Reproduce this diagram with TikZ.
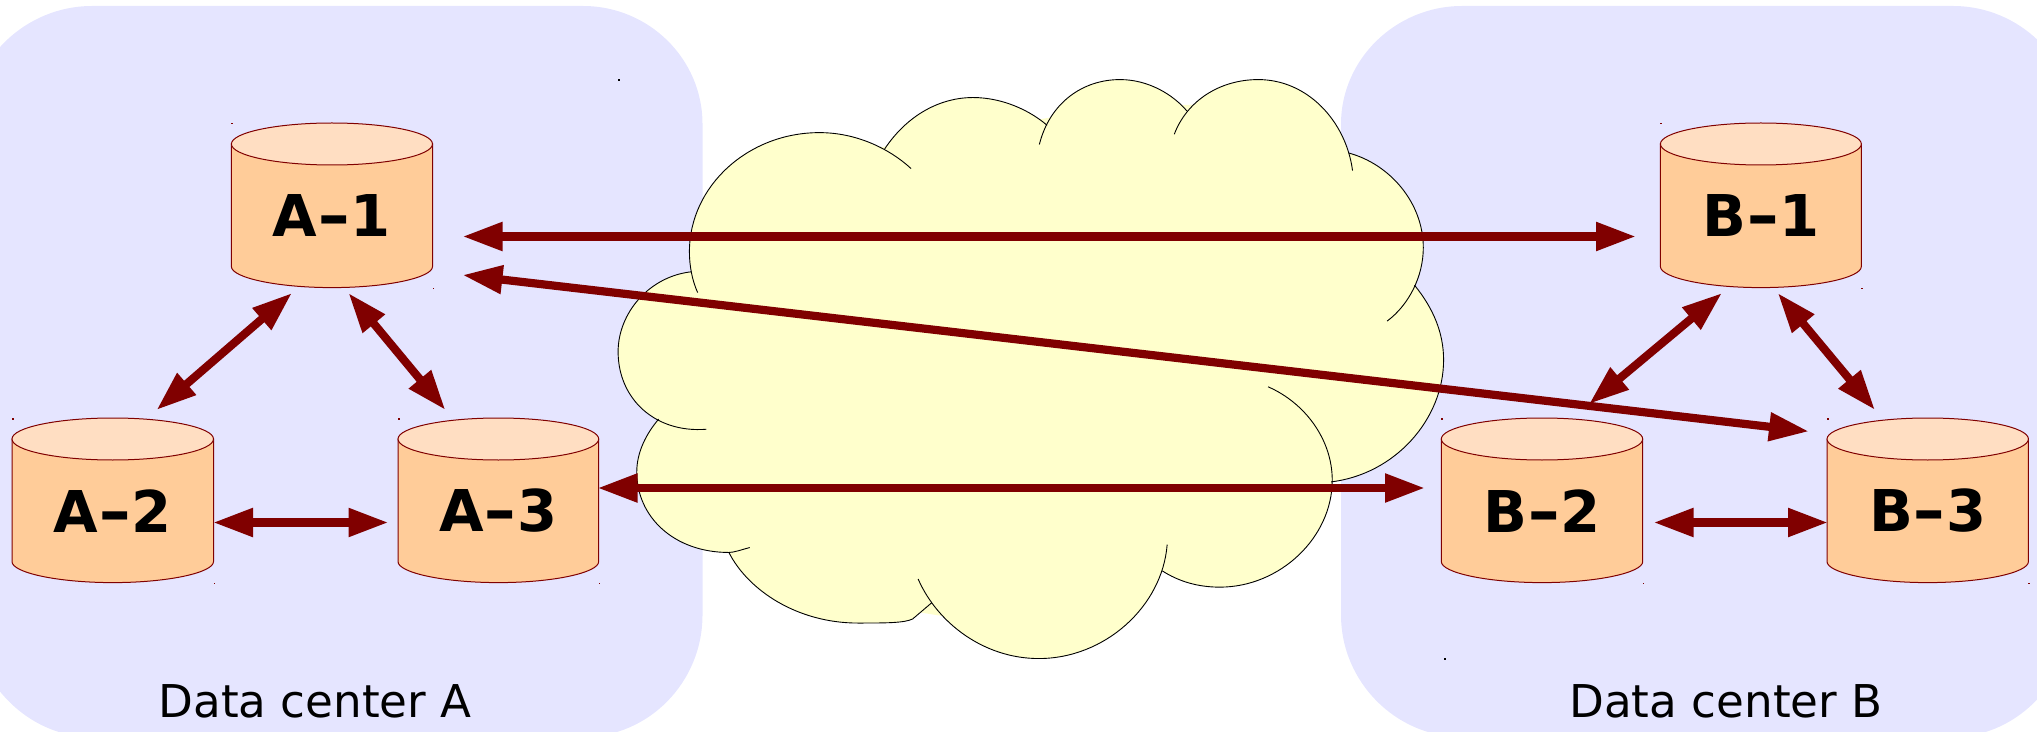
\documentclass[tikz,border=0pt]{standalone}
\usepackage{graphicx}
\usepackage{fontspec}
\setmainfont{DejaVu Sans}
\usetikzlibrary{arrows.meta}
\definecolor{panelblue}{HTML}{E5E5FF}
\definecolor{cloudyellow}{HTML}{FFFFCC}
\definecolor{cylbody}{HTML}{FFCC99}
\definecolor{cyltop}{HTML}{FFDEC2}
\definecolor{maroonline}{HTML}{800000}
\newcommand{\hy}{\scalebox{1.4}[1]{-}}
\tikzset{
  panel/.style={fill=panelblue,draw=none},
  cylline/.style={draw=maroonline,line width=0.5pt},
  cyllabel/.style={font=\bfseries\fontsize{28.8pt}{30pt}\selectfont,text=black,inner sep=0pt},
  dclabel/.style={font=\fontsize{22.6pt}{24pt}\selectfont,text=black,inner sep=0pt,anchor=base},
  link/.style={draw=maroonline,line width=4.1pt,
    {Triangle[length=20pt,width=13.5pt]}-{Triangle[length=20pt,width=13.5pt]}},
  cloudfill/.style={fill=cloudyellow,draw=none},
  cloudline/.style={draw=black,line width=0.45pt},
}
% #1 name, #2 left x, #3 right x, #4 top y, #5 label
\newcommand{\dbcyl}[5]{%
  \pgfmathsetmacro{\cxm}{(#2+#3)/2}%
  \pgfmathsetmacro{\crk}{(#3-#2)/2*0.55}%
  \pgfmathsetmacro{\cyc}{#4+21}%
  \pgfmathsetmacro{\cyb}{#4+164.6}%
  \pgfmathsetmacro{\cys}{#4+143.6}%
  \pgfmathsetmacro{\cyt}{#4+42}%
  \filldraw[cylline,fill=cylbody] (#2,\cyc) -- (#2,\cys)
    .. controls (#2,{\cys+11}) and ({\cxm-\crk},\cyb) .. (\cxm,\cyb)
    .. controls ({\cxm+\crk},\cyb) and (#3,{\cys+11}) .. (#3,\cys)
    -- (#3,\cyc) -- cycle;
  \filldraw[cylline,fill=cyltop] (#2,\cyc)
    .. controls (#2,{\cyc-11.5}) and ({\cxm-\crk},#4) .. (\cxm,#4)
    .. controls ({\cxm+\crk},#4) and (#3,{\cyc-11.5}) .. (#3,\cyc)
    .. controls (#3,{\cyc+11.5}) and ({\cxm+\crk},\cyt) .. (\cxm,\cyt)
    .. controls ({\cxm-\crk},\cyt) and (#2,{\cyc+11.5}) .. (#2,\cyc) -- cycle;
  \node[cyllabel] (#1) at (\cxm,{#4+93}) {#5};
  \fill[maroonline] (#2,#4) rectangle +(1.5,1.5);
  \fill[maroonline] (#3,\cyb) rectangle +(1.5,1.5);
}
\newcommand{\cloudlobes}{%
  \lobe{(178,570) .. controls (168,540) and (163,505) .. (163,470) .. controls (163,309) and (270,178) .. (400,178) .. controls (470,178) and (530,220) .. (567,266)}
  \lobe{(519,218) .. controls (560,135) and (620,92) .. (680,92) .. controls (735,92) and (785,125) .. (815,160)}
  \lobe{(801,207) .. controls (820,105) and (880,48) .. (948,48) .. controls (1000,48) and (1045,85) .. (1070,125)}
  \lobe{(1047,182) .. controls (1070,100) and (1130,48) .. (1200,48) .. controls (1290,48) and (1360,150) .. (1372,271)}
  \lobe{(1365,228) .. controls (1440,255) and (1501,350) .. (1501,460) .. controls (1501,530) and (1475,600) .. (1435,640)}
  \lobe{(1485,552) .. controls (1520,610) and (1538,670) .. (1538,735) .. controls (1538,880) and (1450,1015) .. (1333,1034)}
  \lobe{(1218,801) .. controls (1285,840) and (1335,930) .. (1335,1030) .. controls (1335,1170) and (1240,1292) .. (1130,1292) .. controls (1090,1292) and (1055,1278) .. (1025,1252)}
  \lobe{(1034,1188) .. controls (1025,1340) and (920,1467) .. (800,1467) .. controls (700,1467) and (615,1380) .. (580,1272)}
  \lobe{(605,1330) -- (570,1370) .. controls (555,1380) and (520,1380) .. (470,1380) .. controls (360,1380) and (270,1300) .. (235,1207)}
  \lobe{(273,1195) .. controls (258,1200) and (245,1207) .. (235,1207) .. controls (135,1207) and (67,1120) .. (67,1010) .. controls (67,960) and (85,915) .. (107,880)}
  \lobe{(194,905) .. controls (100,915) and (33,830) .. (33,715) .. controls (33,620) and (90,530) .. (167,519)}
}
\newcommand{\lobefill}[1]{\fill[cloudfill] #1 -- (750,750) -- cycle;}
\newcommand{\lobeline}[1]{\draw[cloudline] #1;}
\begin{document}
\begin{tikzpicture}[x=0.5pt,y=-0.5pt]
\useasboundingbox (0,0) rectangle (2037,732);
\clip (0,0) rectangle (2037,732);
% panels
\path[panel] (92,6) -- (583,6) .. controls (649,6) and (702.5,59) .. (702.5,124)
  -- (702.5,615) .. controls (702.5,682) and (649,737) .. (583,737)
  -- (92,737) .. controls (25,737) and (-30,677) .. (-30,607)
  -- (-30,124) .. controls (-30,59) and (26,6) .. (92,6) -- cycle;
\path[panel] (1462,6) -- (1953,6) .. controls (2019,6) and (2074,59) .. (2074,124)
  -- (2074,607) .. controls (2074,677) and (2019,737) .. (1953,737)
  -- (1462,737) .. controls (1396,737) and (1341,682) .. (1341,615)
  -- (1341,124) .. controls (1341,59) and (1396,6) .. (1462,6) -- cycle;
\fill[black] (618,79.5) rectangle +(1.5,1.5);
\fill[black] (1443.5,658) rectangle +(2,2);
% cloud
\begin{scope}[shift={(600,60)},xscale=0.5485,yscale=0.408]
  \let\lobe\lobefill
  \cloudlobes
  \fill[cloudfill] (220,520) -- (400,240) -- (700,170) -- (950,110) -- (1200,110) -- (1400,280) -- (1450,620)
    -- (1460,760) -- (1300,1010) -- (1150,1240) -- (1000,1240) -- (800,1400) -- (470,1330) -- (240,1150) -- (110,1000) -- (100,700) -- cycle;
  \let\lobe\lobeline
  \cloudlobes
\end{scope}
% cylinders
\dbcyl{a1}{231.4}{432.5}{123}{A\hy 1}
\dbcyl{a2}{12}{213.5}{418}{A\hy 2}
\dbcyl{a3}{398}{598.7}{418}{A\hy 3}
\dbcyl{b1}{1660.4}{1861.3}{123}{B\hy 1}
\dbcyl{b2}{1441.3}{1642.7}{418}{B\hy 2}
\dbcyl{b3}{1827}{2028.4}{418}{B\hy 3}
% labels
\node[dclabel] (dca) at (315,717.6) {Data center A};
\node[dclabel] (dcb) at (1726,717.6) {Data center B};
% connector ends
\coordinate (a1e) at (462.5,236.5);
\coordinate (b1w) at (1636,236.5);
\coordinate (a1s) at (462.5,275);
\coordinate (b3n) at (1809,431.4);
\coordinate (a3e) at (597.5,488);
\coordinate (b2w) at (1425,488);
\coordinate (a2e) at (213,522.5);
\coordinate (a3w) at (388.5,522.5);
\coordinate (a1l) at (292,293);
\coordinate (a2n) at (156.5,410);
\coordinate (a1r) at (348.4,293);
\coordinate (a3n) at (445.4,410);
\coordinate (b1l) at (1722,293);
\coordinate (b2n) at (1589,404);
\coordinate (b1r) at (1777.7,293);
\coordinate (b3t) at (1875,410);
\coordinate (b2e) at (1653.5,522.5);
\coordinate (b3w) at (1828,522.5);
% connectors
\draw[link] (a1e) -- (b1w);
\draw[link] (a1s) -- (b3n);
\draw[link] (a3e) -- (b2w);
\draw[link] (a2e) -- (a3w);
\draw[link] (a1l) -- (a2n);
\draw[link] (a1r) -- (a3n);
\draw[link] (b1l) -- (b2n);
\draw[link] (b1r) -- (b3t);
\draw[link] (b2e) -- (b3w);
\end{tikzpicture}
\end{document}
